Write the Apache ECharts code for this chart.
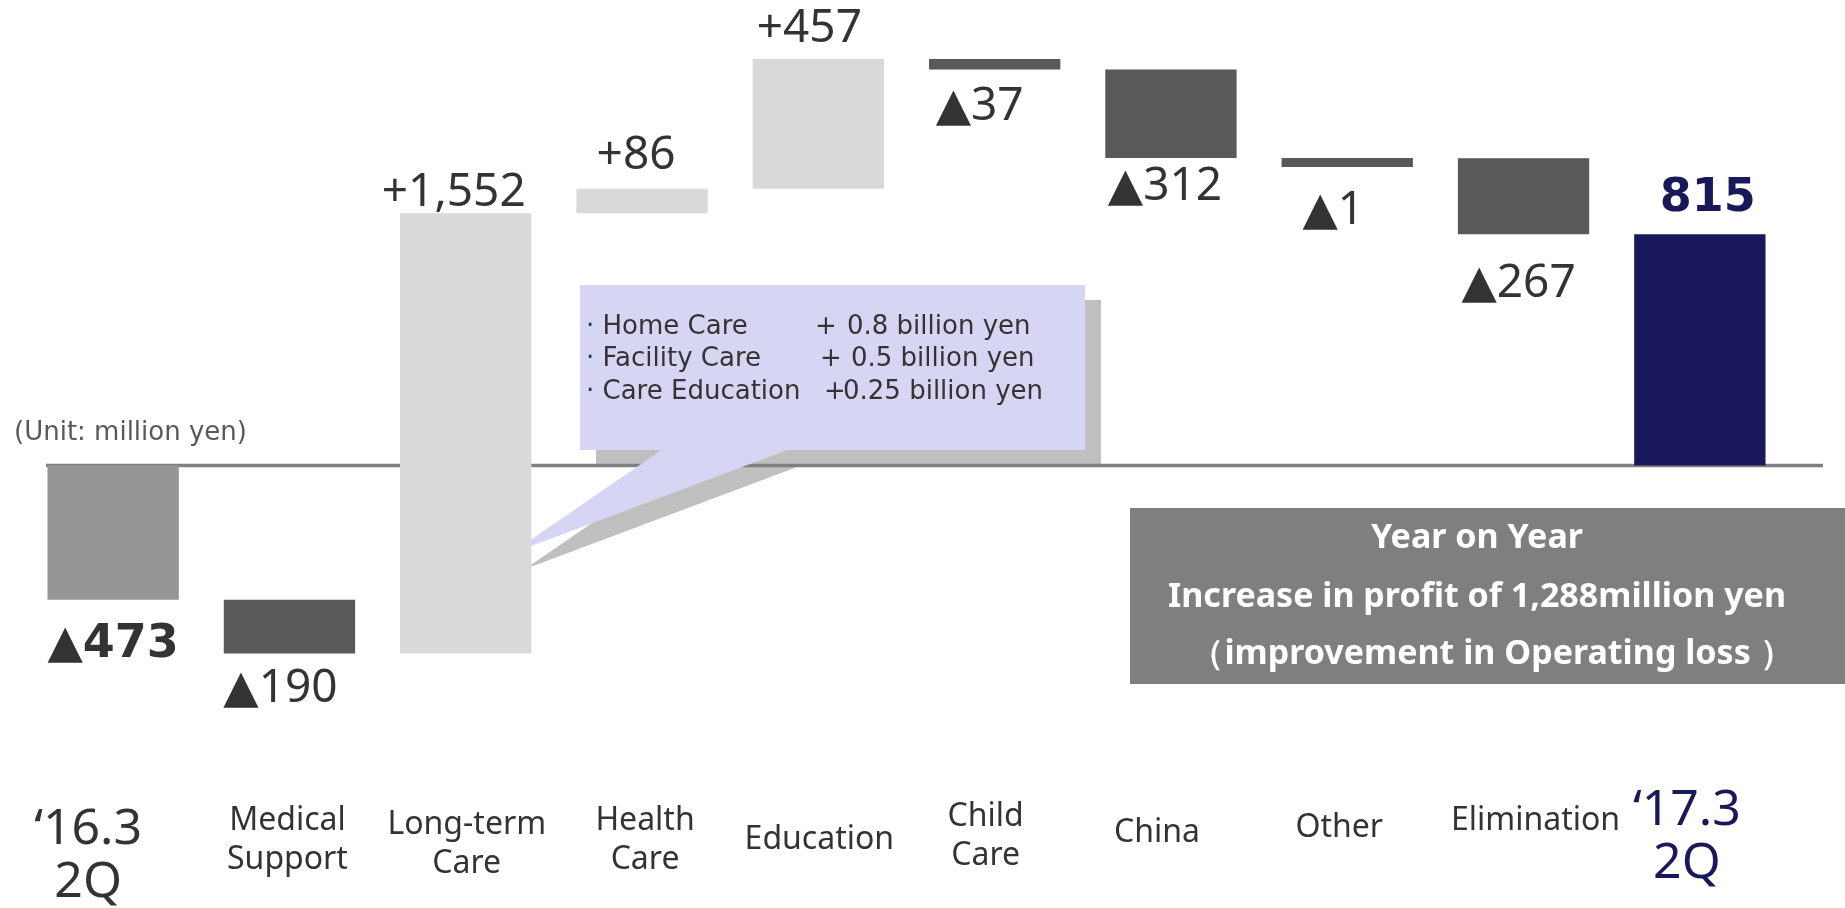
<!DOCTYPE html>
<html><head><meta charset="utf-8">
<script src="https://cdn.jsdelivr.net/npm/echarts@6/dist/echarts.min.js"></script>
<style>html,body{margin:0;padding:0;background:#fff}#c{width:1845px;height:908px}</style>
</head><body><div id="c"></div>
<script>
// ---- data ----
const categories = ['‘16.3\n2Q', 'Medical\nSupport', 'Long-term\nCare', 'Health\nCare', 'Education', 'Child\nCare', 'China', 'Other', 'Elimination', '‘17.3\n2Q'];
const changes = [-473, -190, 1552, 86, 457, -37, -312, -1, -267, 815];
const barKinds = ['start', 'delta', 'delta', 'delta', 'delta', 'delta', 'delta', 'delta', 'delta', 'end'];
const unitText = '(Unit: million yen)';
const calloutNames = ['· Home Care', '· Facility Care', '· Care Education'];
const calloutValues = ['0.8 billion yen', '0.5 billion yen', '0.25 billion yen'];
const summaryLines = ['Year on Year', 'Increase in profit of 1,288million yen', '（improvement in Operating loss ）'];

// ---- layout (pixels / styles only) ----
const labelGap = [22, 12, -3, 10, 7, 14, 6, 21, 27, 12];
const labelDx = [0, -9, -12, -6, -9, -15, -6, -14, -5, 8];
const catDx = [-25, -2, 1, 3, 1, -9, -14, -8, 12, -13];
const catY = [856, 840, 844, 840, 840, 836, 833, 828, 821, 837];

// ---- build waterfall rows ----
const rows = [];
let run = 0;
changes.forEach((v, i) => {
  let s, e;
  if (barKinds[i] === 'delta') { s = run; e = run + v; run = e; }
  else { s = 0; e = v; run = v; }
  rows.push([i, s, e, v]);
});
function fmt(v) { return Math.abs(v).toLocaleString('en-US'); }
function labelText(i) {
  const v = changes[i];
  if (v < 0) return '▲' + fmt(v);
  return barKinds[i] === 'delta' ? '+' + fmt(v) : fmt(v);
}

const FONT = "'Noto Sans', 'DejaVu Sans', sans-serif";
const DJ = "'DejaVu Sans', sans-serif";
const NAVY = '#18185a';
const TXT = '#333333';

const chart = echarts.init(document.getElementById('c'));
chart.setOption({
  animation: false,
  backgroundColor: '#ffffff',
  grid: { left: 25, right: 57, top: 0, bottom: 102, outerBoundsMode: 'none', containLabel: false },
  xAxis: {
    type: 'category', data: categories,
    axisLine: { show: false }, axisTick: { show: false }, splitLine: { show: false },
    axisLabel: { show: false }
  },
  yAxis: { type: 'value', min: -1200, max: 1640, show: false, splitLine: { show: false } },
  series: [{
    type: 'custom', z: 2,
    encode: { x: 0, y: [1, 2] },
    data: rows,
    renderItem: function (params, api) {
      const i = api.value(0), s = api.value(1), e = api.value(2), v = api.value(3);
      const kind = barKinds[i];
      const ps = api.coord([i, s]), pe = api.coord([i, e]);
      const w = api.size([1, 0])[0] * 0.745;
      let top = Math.min(ps[1], pe[1]);
      let h = Math.abs(pe[1] - ps[1]);
      const minH = 9;
      if (h < minH) { h = minH; top = v < 0 ? ps[1] : ps[1] - minH; }
      let fill;
      if (kind === 'start') fill = '#969696';
      else if (kind === 'end') fill = NAVY;
      else fill = v < 0 ? '#595959' : '#d9d9d9';
      const isTotal = kind !== 'delta';
      return {
        type: 'rect',
        shape: { x: ps[0] - w / 2, y: top, width: w, height: h },
        style: { fill: fill },
        textContent: {
          style: {
            text: labelText(i), fontSize: 46, fontWeight: isTotal ? 'bold' : 'normal',
            fontFamily: isTotal ? DJ : FONT, fill: kind === 'end' ? NAVY : TXT
          }
        },
        textConfig: { position: v < 0 ? 'bottom' : 'top', distance: labelGap[i], offset: [labelDx[i], 0] }
      };
    }
  }]
});

// ---- annotations ----
const y0 = chart.convertToPixel({ yAxisIndex: 0 }, 0);
const catEls = categories.map((c, i) => {
  const big = i === 0 || i === categories.length - 1;
  const cx = chart.convertToPixel({ xAxisIndex: 0 }, i);
  return {
    type: 'text', z: 1, z2: 3,
    style: {
      x: cx + catDx[i], y: catY[i], text: c, fontFamily: FONT,
      fontSize: big ? 50 : 32, lineHeight: big ? 53 : 39,
      fill: i === categories.length - 1 ? NAVY : TXT, align: 'center', verticalAlign: 'middle'
    }
  };
});
const calloutTextEls = [];
const lineY = [327, 359, 392];
const plusX = [815, 820, 824];
const valX = [847, 851, 843];
calloutNames.forEach((n, k) => {
  calloutTextEls.push({ type: 'text', z: 1, z2: 5, style: { x: 586, y: lineY[k], text: n, fontSize: 26, fontFamily: DJ, fill: TXT, verticalAlign: 'middle' } });
  calloutTextEls.push({ type: 'text', z: 1, z2: 5, style: { x: plusX[k], y: lineY[k], text: '+', fontSize: 26, fontFamily: DJ, fill: TXT, verticalAlign: 'middle' } });
  calloutTextEls.push({ type: 'text', z: 1, z2: 5, style: { x: valX[k], y: lineY[k], text: calloutValues[k], fontSize: 26, fontFamily: DJ, fill: TXT, verticalAlign: 'middle' } });
});
const sumY = [538, 597, 654];
const sumX = [1477, 1477, 1492];
const summaryEls = summaryLines.map((t, k) => ({
  type: 'text', z: 4, z2: 2,
  style: { x: sumX[k], y: sumY[k], text: t, fontSize: 34, fontWeight: 'bold', fontFamily: FONT, fill: '#ffffff', align: 'center', verticalAlign: 'middle' }
}));

chart.setOption({
  graphic: [
    { type: 'rect', z: 1, z2: 0, shape: { x: 596, y: 300, width: 505, height: y0 - 300 }, style: { fill: '#bfbfbf' } },
    { type: 'polygon', z: 1, z2: 0, shape: { points: [[678, 464], [805, 464], [525, 569]] }, style: { fill: '#bfbfbf' } },
    { type: 'line', z: 1, z2: 1, shape: { x1: 46, y1: y0, x2: 1823, y2: y0 }, style: { stroke: '#808080', lineWidth: 3.5 } },
    { type: 'rect', z: 1, z2: 2, shape: { x: 580, y: 285, width: 505, height: 165 }, style: { fill: '#d6d6f4' } },
    { type: 'polygon', z: 1, z2: 2, shape: { points: [[663, 449], [790, 449], [510, 554]] }, style: { fill: '#d6d6f4' } },
    ...calloutTextEls,
    { type: 'text', z: 1, z2: 3, style: { x: 14, y: 433, text: unitText, fontSize: 26, fontFamily: DJ, fill: '#595959', verticalAlign: 'middle' } },
    { type: 'rect', z: 4, z2: 1, shape: { x: 1130, y: 508, width: 715, height: 176 }, style: { fill: '#7f7f7f' } },
    ...summaryEls,
    ...catEls
  ]
});
</script>
</body></html>
